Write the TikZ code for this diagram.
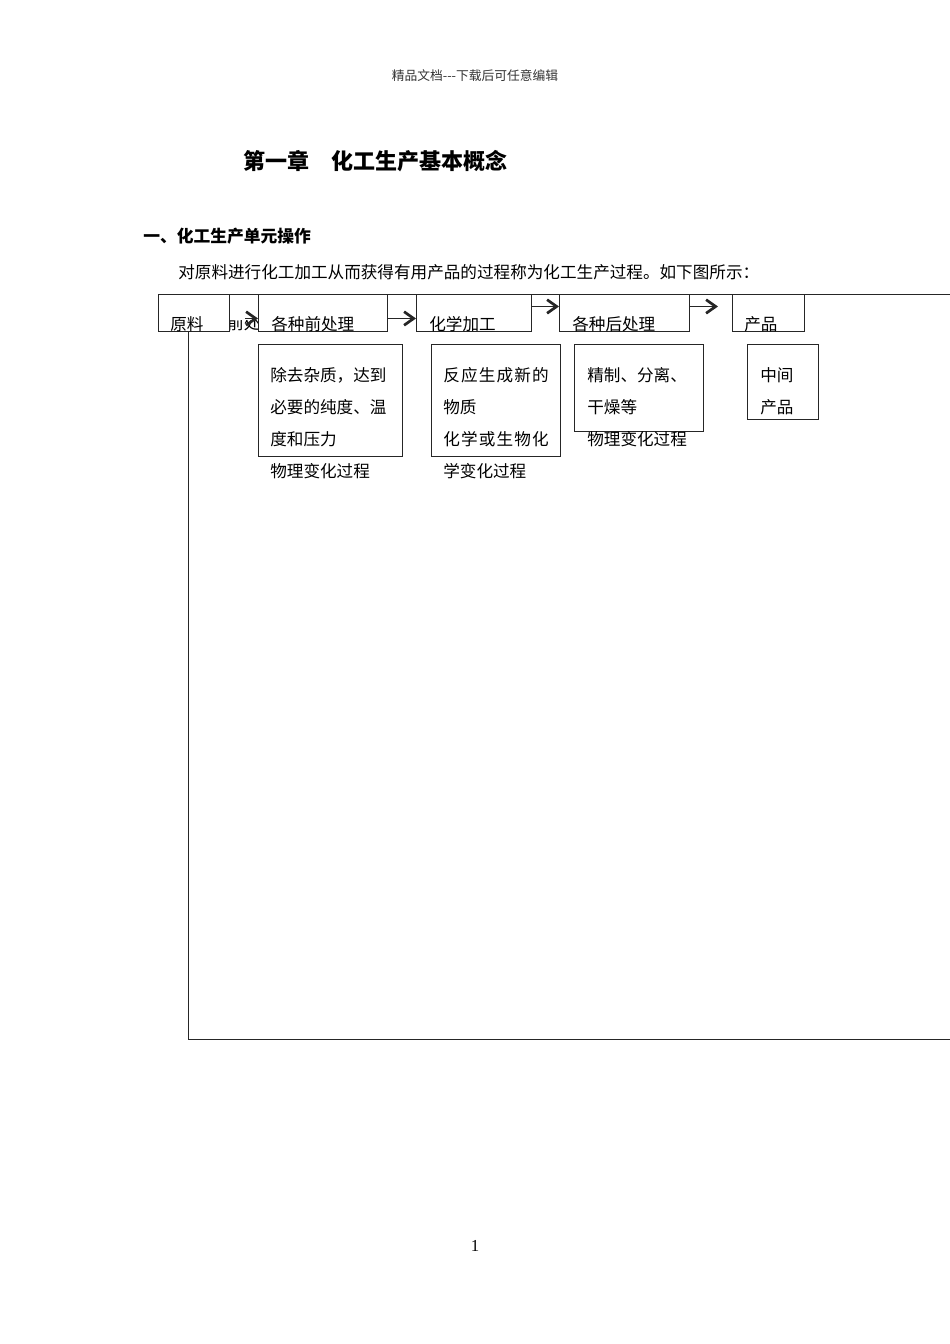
\documentclass[tikz,border=0pt]{standalone}
\usepackage{fontspec}
\setmainfont{Noto Sans CJK SC}
\newfontfamily\numfont{Liberation Serif}
\usetikzlibrary{arrows.meta,positioning}

% one pixel of the page
\newdimen\px
\px=0.6266pt

\tikzset{
  stage/.style={draw=black!85, line width=0.6pt, fill=white, inner sep=0pt, anchor=north west, minimum height=37\px},
  note/.style={draw=black!85, line width=0.6pt, fill=white, inner sep=0pt, anchor=north west},
  txt/.style={inner sep=0pt, anchor=base west, font=\fontsize{10.4pt}{12pt}\selectfont},
  wide/.style={txt, font=\fontsize{10.4pt}{12pt}\selectfont\addfontfeature{LetterSpace=7}},
  flow/.style={draw=black!85, line width=0.6pt, -{Straight Barb[length=6pt,width=8.5pt,line width=1.7pt]}},
}

\begin{document}
\begin{tikzpicture}[x=\px, y=-\px]
	\useasboundingbox (0,0) rectangle (950,1344);

	% Page texts
	\node[inner sep=0pt, anchor=base, font=\fontsize{8pt}{10pt}\selectfont, text=black!80] (header) at (475,80) {精品文档-{}-{}-下载后可任意编辑};
	\node[inner sep=0pt, anchor=base west, font=\fontsize{13.8pt}{16pt}\selectfont\bfseries] (title) at (243,169) {第一章　化工生产基本概念};
	\node[txt, font=\fontsize{10.5pt}{12pt}\selectfont\bfseries] (section) at (143,242) {一、化工生产单元操作};
	\node[txt] (intro) at (178,278) {对原料进行化工加工从而获得有用产品的过程称为化工生产过程。如下图所示：};
	\node[inner sep=0pt, anchor=base, font=\numfont\fontsize{10.5pt}{12pt}\selectfont] (pageno) at (475,1251) {1};

	% Outer frame
	\node[draw=black!85, line width=0.6pt, inner sep=0pt, anchor=north west, minimum width=772\px, minimum height=745\px] (frame) at (188,294) {};

	% Cut-off label behind the first arrow
	\begin{scope}
		\clip (229,320) rectangle (258,336);
		\node[txt] (raw-cut) at (227,329) {前处};
	\end{scope}

	% Process steps
	\node[stage, minimum width=71\px]  (raw)  at (158,294) {};
	\node[stage, minimum width=129\px] (pre)  at (258,294) {};
	\node[stage, minimum width=115\px] (chem) at (416,294) {};
	\node[stage, minimum width=130\px] (post) at (559,294) {};
	\node[stage, minimum width=72\px]  (prod) at (732,294) {};
	% Step labels
	\node[txt] (raw-t)  at (170,330) {原料};
	\node[txt] (pre-t)  at (271,330) {各种前处理};
	\node[txt] (chem-t) at (429,330) {化学加工};
	\node[txt] (post-t) at (572,330) {各种后处理};
	\node[txt] (prod-t) at (744,330) {产品};

	% Edges
	\draw[flow, shorten <=15\px] ([yshift=-5.5\px]raw.east) -- ([yshift=-5.5\px]pre.west);
	\draw[flow] ([yshift=-5.5\px]pre.east) -- ([yshift=-5.5\px]chem.west);
	\draw[flow] ([yshift=6.5\px]chem.east) -- ([yshift=6.5\px]post.west);
	\draw[flow] ([yshift=6.5\px]post.east) -- ([yshift=6.5\px]post.east -| 718,0);

	% Notes under the steps
	\node[note, minimum width=144\px, minimum height=112\px] (pre-n)  at (258,344) {};
	\node[note, minimum width=129\px, minimum height=112\px] (chem-n) at (431,344) {};
	\node[note, minimum width=129\px, minimum height=87\px]  (post-n) at (574,344) {};
	\node[note, minimum width=71\px, minimum height=75\px]   (mid-n)  at (747,344) {};

	% Pretreatment
	\node[txt] (pre-a) at (270,381) {除去杂质，达到};
	\node[txt] (pre-b) at (270,413) {必要的纯度、温};
	\node[txt] (pre-c) at (270,445) {度和压力};
	\node[txt] (pre-d) at (270,477) {物理变化过程};
	% Chemical processing
	\node[wide] (chem-a) at (443,381) {反应生成新的};
	\node[txt]  (chem-b) at (443,413) {物质};
	\node[wide] (chem-c) at (443,445) {化学或生物化};
	\node[txt]  (chem-d) at (443,477) {学变化过程};
	% Post-treatment
	\node[txt] (post-a) at (587,381) {精制、分离、};
	\node[txt] (post-b) at (587,413) {干燥等};
	\node[txt] (post-c) at (587,445) {物理变化过程};
	% Intermediate product
	\node[txt] (mid-a) at (760,381) {中间};
	\node[txt] (mid-b) at (760,413) {产品};
\end{tikzpicture}
\end{document}
